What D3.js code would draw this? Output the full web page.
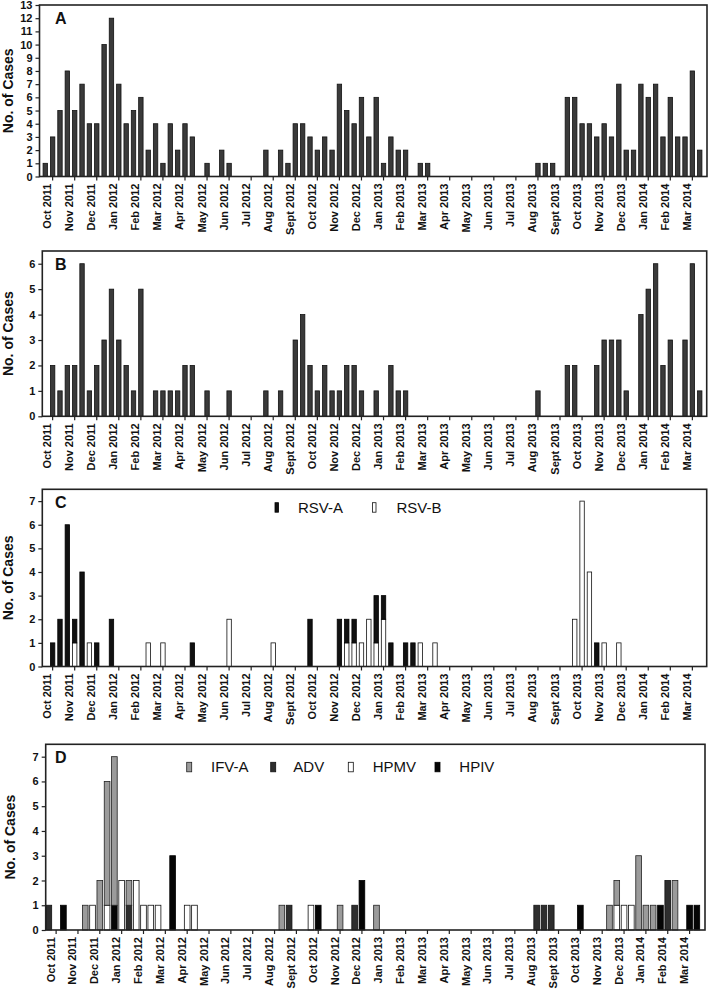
<!DOCTYPE html>
<html lang="en">
<head>
<meta charset="UTF-8">
<title>Monthly cases, Oct 2011 - Mar 2014</title>
<script src="https://d3js.org/d3.v7.min.js"></script>
<style>
  body { margin: 0; background: #fff; }
  svg { display: block; font-family: "Liberation Sans", Arial, sans-serif; }
  .tick text { font-size: 11px; font-weight: bold; fill: #111; }
  .tick line { stroke: #222; stroke-width: 1.2px; }
  .frame { fill: none; stroke: #222; stroke-width: 1.6px; }
  .ytitle { font-size: 14px; font-weight: bold; fill: #111; }
  .letter { font-size: 16px; font-weight: bold; fill: #111; }
  .legend text { font-size: 15px; fill: #111; }
</style>
</head>
<body>
<div id="chart"></div>
<script>
// month labels (3 ten-day bins per month)
const months = ["Oct 2011", "Nov 2011", "Dec 2011", "Jan 2012", "Feb 2012", "Mar 2012",
  "Apr 2012", "May 2012", "Jun 2012", "Jul 2012", "Aug 2012", "Sept 2012",
  "Oct 2012", "Nov 2012", "Dec 2012", "Jan 2013", "Feb 2013", "Mar 2013",
  "Apr 2013", "May 2013", "Jun 2013", "Jul 2013", "Aug 2013", "Sept 2013",
  "Oct 2013", "Nov 2013", "Dec 2013", "Jan 2014", "Feb 2014", "Mar 2014"];

// A: all cases, one row per month
const casesA = [
  1,3,5, 8,5,7, 4,4,10, 12,7,4, 5,6,2, 4,1,4, 2,4,3, 0,1,0, 2,1,0, 0,0,0,
  2,0,2, 1,4,4, 3,2,3, 2,7,5, 4,6,3, 6,1,3, 2,2,0, 1,1,0, 0,0,0, 0,0,0,
  0,0,0, 0,0,0, 0,1,1, 1,0,6, 6,4,4, 3,4,3, 7,2,2, 7,6,7, 3,6,3, 3,8,2];

// B
const casesB = [
  0,2,1, 2,2,6, 1,2,3, 5,3,2, 1,5,0, 1,1,1, 1,2,2, 0,1,0, 0,1,0, 0,0,0,
  1,0,1, 0,3,4, 2,1,2, 1,1,2, 2,1,0, 1,0,2, 1,1,0, 0,0,0, 0,0,0, 0,0,0,
  0,0,0, 0,0,0, 0,1,0, 0,0,2, 2,0,0, 2,3,3, 3,1,0, 4,5,6, 2,3,0, 3,6,1];

// C: RSV subtypes
const rsvA = [
  0,1,2, 6,1,4, 0,1,0, 2,0,0, 0,0,0, 0,0,0, 0,0,1, 0,0,0, 0,0,0, 0,0,0,
  0,0,0, 0,0,0, 2,0,0, 0,2,1, 1,0,0, 2,1,1, 0,1,1, 0,0,0, 0,0,0, 0,0,0,
  0,0,0, 0,0,0, 0,0,0, 0,0,0, 0,0,0, 1,0,0, 0,0,0, 0,0,0, 0,0,0, 0,0,0];
const rsvB = [
  0,0,0, 0,1,0, 1,0,0, 0,0,0, 0,0,1, 0,1,0, 0,0,0, 0,0,0, 0,2,0, 0,0,0,
  0,1,0, 0,0,0, 0,0,0, 0,0,1, 1,1,2, 1,2,0, 0,0,0, 1,0,1, 0,0,0, 0,0,0,
  0,0,0, 0,0,0, 0,0,0, 0,0,0, 2,7,4, 0,1,0, 1,0,0, 0,0,0, 0,0,0, 0,0,0];

// D: other viruses
const ifvA = [
  0,0,0, 0,0,1, 0,2,5, 6,0,1, 0,0,0, 0,0,0, 0,0,0, 0,0,0, 0,0,0, 0,0,0,
  0,0,1, 0,0,0, 0,0,0, 0,1,0, 0,0,0, 1,0,0, 0,0,0, 0,0,0, 0,0,0, 0,0,0,
  0,0,0, 0,0,0, 0,0,0, 0,0,0, 0,0,0, 0,0,1, 1,0,0, 3,1,1, 0,0,2, 0,0,0];
const adv = [
  1,0,0, 0,0,0, 0,0,0, 0,0,1, 0,0,0, 0,0,0, 0,0,0, 0,0,0, 0,0,0, 0,0,0,
  0,0,0, 1,0,0, 0,0,0, 0,0,0, 1,0,0, 0,0,0, 0,0,0, 0,0,0, 0,0,0, 0,0,0,
  0,0,0, 0,0,0, 0,1,1, 1,0,0, 0,0,0, 0,0,0, 0,0,0, 0,0,0, 0,2,0, 0,0,0];
const hpmv = [
  0,0,0, 0,0,0, 1,0,1, 0,2,0, 2,1,1, 1,0,0, 0,1,1, 0,0,0, 0,0,0, 0,0,0,
  0,0,0, 0,0,0, 1,0,0, 0,0,0, 0,0,0, 0,0,0, 0,0,0, 0,0,0, 0,0,0, 0,0,0,
  0,0,0, 0,0,0, 0,0,0, 0,0,0, 0,0,0, 0,0,0, 1,1,1, 0,0,0, 0,0,0, 0,0,0];
const hpiv = [
  0,0,1, 0,0,0, 0,0,0, 1,0,0, 0,0,0, 0,0,3, 0,0,0, 0,0,0, 0,0,0, 0,0,0,
  0,0,0, 0,0,0, 0,1,0, 0,0,0, 0,2,0, 0,0,0, 0,0,0, 0,0,0, 0,0,0, 0,0,0,
  0,0,0, 0,0,0, 0,0,0, 0,0,0, 0,1,0, 0,0,0, 0,0,0, 0,0,0, 1,0,0, 0,1,1];

const width = 709, height = 991;
const nBins = months.length * 3;

const panels = [
  { letter: "A", top: 5, bottom: 176.5, left: 39.5, right: 707, x0: 41.6, x1: 703.4, pad: 0.4,
    ymax: 13, titleX: 13.3,
    series: [{ key: "all", values: casesA, fill: "#3a3a3a", stroke: "#111" }] },
  { letter: "B", top: 251, bottom: 416.3, left: 42.3, right: 706.7, x0: 41.6, x1: 703.4, pad: 0.4,
    ymax: 6.5, titleX: 13.3,
    series: [{ key: "all", values: casesB, fill: "#3a3a3a", stroke: "#111" }] },
  { letter: "C", top: 489.3, bottom: 666.5, left: 42.3, right: 706.7, x0: 41.6, x1: 703.4, pad: 0.4,
    ymax: 7.5, titleX: 13,
    series: [
      { key: "RSV-B", values: rsvB, fill: "#fff", stroke: "#111" },
      { key: "RSV-A", values: rsvA, fill: "#111", stroke: "#000" }],
    legend: [
      { key: "RSV-A", mx: 275, tx: 298, w: 3.5 },
      { key: "RSV-B", mx: 372.5, tx: 396.5, w: 3.5 }],
    legendY: 512.7 },
  { letter: "D", top: 744.3, bottom: 930, left: 45.7, right: 705, x0: 45.2, x1: 700.5, pad: 0.22,
    ymax: 7.5, titleX: 15,
    series: [
      { key: "ADV", values: adv, fill: "#2e2e2e", stroke: "#111" },
      { key: "HPMV", values: hpmv, fill: "#fff", stroke: "#111" },
      { key: "HPIV", values: hpiv, fill: "#050505", stroke: "#000" },
      { key: "IFV-A", values: ifvA, fill: "#9b9b9b", stroke: "#222" }],
    legend: [
      { key: "IFV-A", mx: 186.7, tx: 211, w: 5 },
      { key: "ADV", mx: 270.7, tx: 293.3, w: 5 },
      { key: "HPMV", mx: 348.3, tx: 372.7, w: 5 },
      { key: "HPIV", mx: 435, tx: 459.3, w: 5 }],
    legendY: 772.3 }
];

const svg = d3.select("#chart").append("svg")
  .attr("width", width)
  .attr("height", height);

svg.append("rect").attr("width", width).attr("height", height).attr("fill", "#fff");

panels.forEach(p => {
  const g = svg.append("g");

  const x = d3.scaleBand()
    .domain(d3.range(nBins))
    .range([p.x0, p.x1])
    .paddingInner(p.pad)
    .paddingOuter(p.pad / 2);

  const y = d3.scaleLinear()
    .domain([0, p.ymax])
    .range([p.bottom, p.top]);

  const rows = d3.range(nBins).map(i => {
    const r = { i: i };
    p.series.forEach(s => { r[s.key] = s.values[i]; });
    return r;
  });
  const layers = d3.stack().keys(p.series.map(s => s.key))(rows);

  layers.forEach((layer, k) => {
    const s = p.series[k];
    g.append("g")
      .selectAll("rect")
      .data(layer.filter(d => d[1] > d[0]))
      .join("rect")
      .attr("x", d => x(d.data.i))
      .attr("width", x.bandwidth())
      .attr("y", d => y(d[1]))
      .attr("height", d => y(d[0]) - y(d[1]))
      .attr("fill", s.fill)
      .attr("stroke", s.stroke)
      .attr("stroke-width", 0.8);
  });

  // x axis: one tick per month, at the middle bin
  const xAxis = d3.axisBottom(x)
    .tickValues(d3.range(months.length).map(m => m * 3 + 1))
    .tickFormat(i => months[(i - 1) / 3])
    .tickSizeInner(4)
    .tickSizeOuter(0);

  g.append("g")
    .attr("transform", `translate(0,${p.bottom})`)
    .call(xAxis)
    .call(a => a.select(".domain").remove())
    .selectAll("text")
    .attr("transform", "rotate(-90)")
    .attr("x", -7)
    .attr("y", -1.5)
    .attr("dy", null)
    .style("text-anchor", "end");

  const yAxis = d3.axisLeft(y)
    .tickValues(d3.range(0, Math.floor(p.ymax) + 1))
    .tickFormat(d3.format("d"))
    .tickSize(4)
    .tickPadding(3);

  g.append("g")
    .attr("transform", `translate(${p.left},0)`)
    .call(yAxis)
    .call(a => a.select(".domain").remove());

  g.append("rect")
    .attr("class", "frame")
    .attr("x", p.left)
    .attr("y", p.top)
    .attr("width", p.right - p.left)
    .attr("height", p.bottom - p.top);

  g.append("text")
    .attr("class", "letter")
    .attr("x", 55)
    .attr("y", p.top + 19)
    .text(p.letter);

  g.append("text")
    .attr("class", "ytitle")
    .attr("transform", `translate(${p.titleX},${(p.top + p.bottom) / 2}) rotate(-90)`)
    .attr("text-anchor", "middle")
    .text("No. of Cases");

  if (p.legend) {
    const lg = g.append("g").attr("class", "legend");
    p.legend.forEach(item => {
      const s = p.series.find(d => d.key === item.key);
      lg.append("rect")
        .attr("x", item.mx)
        .attr("y", p.legendY - 10)
        .attr("width", item.w)
        .attr("height", 9.5)
        .attr("fill", s.fill)
        .attr("stroke", s.stroke)
        .attr("stroke-width", 0.8);
      lg.append("text")
        .attr("x", item.tx)
        .attr("y", p.legendY)
        .text(item.key);
    });
  }
});
</script>
</body>
</html>
